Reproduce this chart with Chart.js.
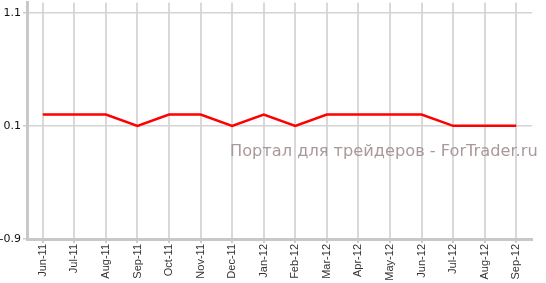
<!DOCTYPE html>
<html>
<head>
<meta charset="utf-8">
<script src="https://cdn.jsdelivr.net/npm/chart.js@4"></script>
<style>
  html, body { margin: 0; padding: 0; background: #fff; }
  #wrap { width: 546px; height: 283px; }
</style>
</head>
<body>
<div id="wrap"><canvas id="myChart" width="546" height="283"></canvas></div>
<script>
const meses = ["Jun-11", "Jul-11", "Aug-11", "Sep-11", "Oct-11", "Nov-11", "Dec-11", "Jan-12",
  "Feb-12", "Mar-12", "Apr-12", "May-12", "Jun-12", "Jul-12", "Aug-12", "Sep-12"];
const valores = [0.2, 0.2, 0.2, 0.1, 0.2, 0.2, 0.1, 0.2, 0.1, 0.2, 0.2, 0.2, 0.2, 0.1, 0.1, 0.1];
const ticksY = [-0.9, 0.1, 1.1];
const marcaDagua = "Портал для трейдеров - ForTrader.ru";

// texto cinza por cima do grafico
const watermark = {
  id: "watermark",
  beforeDatasetsDraw(chart) {
    const c = chart.ctx;
    c.save();
    c.font = "16.2px 'DejaVu Sans', Verdana, sans-serif";
    c.fillStyle = "#a89a9a";
    c.textAlign = "left";
    c.textBaseline = "middle";
    c.fillText(marcaDagua, 230, 152);
    c.restore();
  },
};

const ctx = document.getElementById("myChart").getContext("2d");
const myChart = new Chart(ctx, {
  type: "line",
  data: {
    labels: meses,
    datasets: [
      {
        data: valores,
        borderColor: "#ff0000",
        borderWidth: 2.5,
        pointRadius: 0,
        tension: 0,
        fill: false,
      },
    ],
  },
  options: {
    responsive: false,
    animation: false,
    layout: { padding: { top: 0, right: 14, left: 0, bottom: 0 } },
    plugins: { legend: { display: false }, tooltip: { enabled: false } },
    scales: {
      x: {
        offset: true,
        grid: { color: "#d9d9d9", lineWidth: 2, offset: false, tickLength: 4, tickColor: "#cccccc" },
        border: { color: "#c8c8c8", width: 3 },
        ticks: {
          minRotation: 90,
          maxRotation: 90,
          autoSkip: false,
          padding: 1,
          color: "#333",
          font: { family: "'Liberation Sans', Arial, sans-serif", size: 11 },
        },
        afterFit: (scale) => { scale.height = 44; },
      },
      y: {
        min: -0.9,
        max: 1.19,
        afterBuildTicks: (scale) => {
          scale.ticks = ticksY.map((v) => ({ value: v }));
        },
        grid: { color: "#d4d4d4", lineWidth: 1.5, tickLength: 4, tickColor: "#cccccc" },
        border: { color: "#c8c8c8", width: 3 },
        ticks: {
          padding: 2,
          color: "#111",
          font: { family: "'DejaVu Sans', Verdana, sans-serif", size: 11, lineHeight: 0.1 },
          callback: (v) => v.toString(),
        },
        afterFit: (scale) => { scale.width = 27; },
      },
    },
  },
  plugins: [watermark],
});
</script>
</body>
</html>
